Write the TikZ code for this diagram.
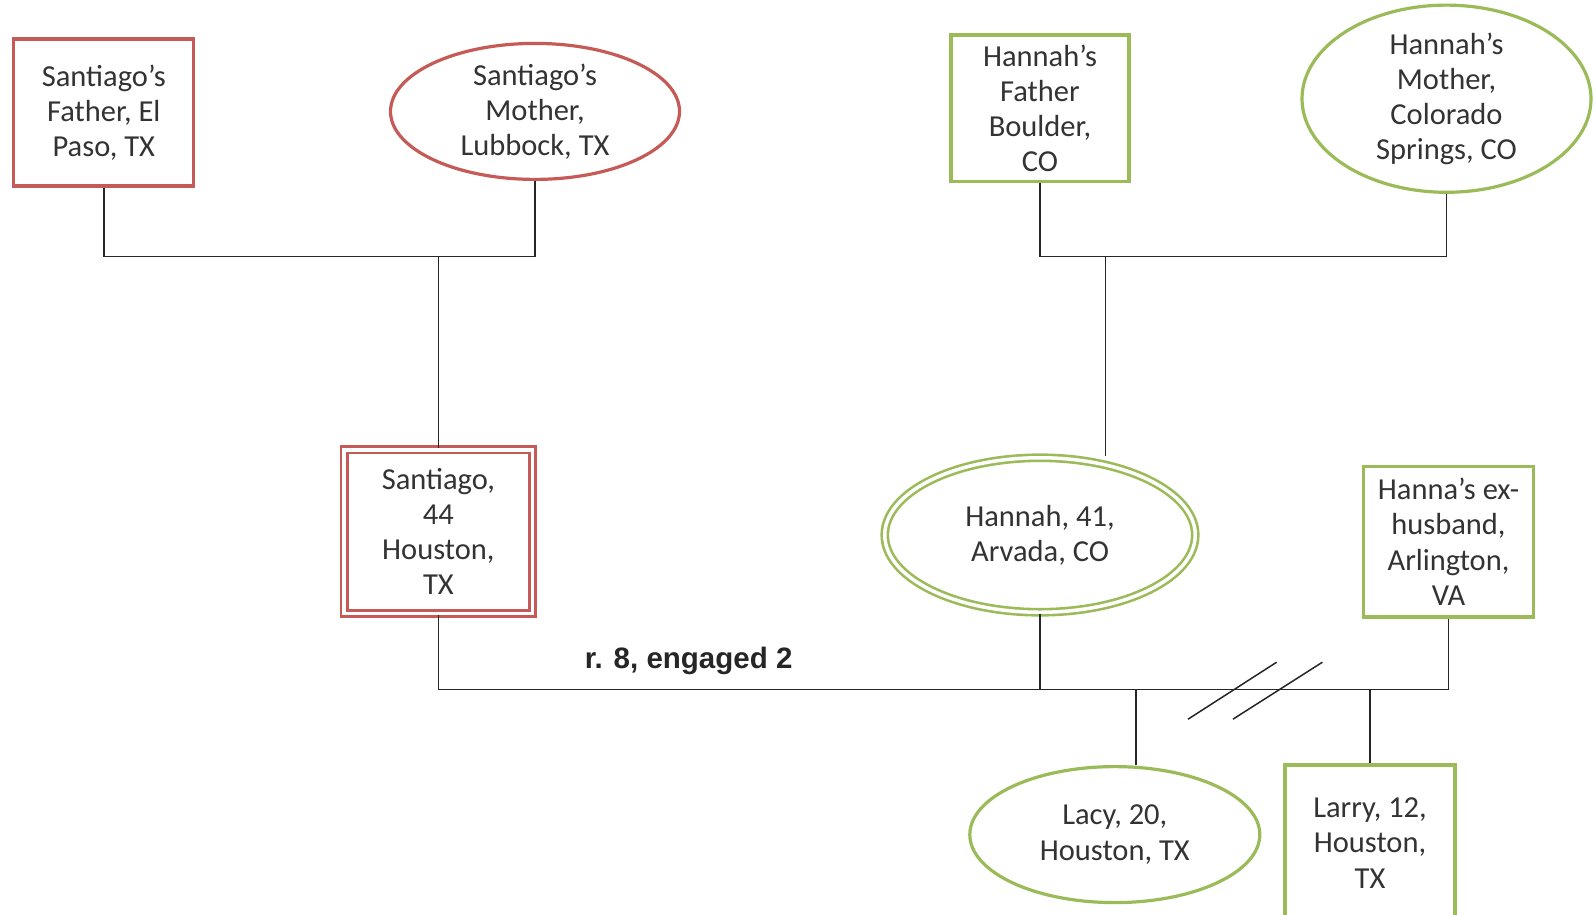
\documentclass[tikz,border=0pt]{standalone}
\usepackage{fontspec}
\setmainfont{Carlito}
\newfontfamily\labelfont{Liberation Sans}
\usetikzlibrary{shapes.geometric}
\definecolor{kinred}{HTML}{C55A57}
\definecolor{kingreen}{HTML}{9BBB59}
\definecolor{inkgrey}{HTML}{333333}
\definecolor{linkgrey}{HTML}{262626}

\begin{document}
\begin{tikzpicture}[x=1pt,y=-1pt,
  person/.style={inner sep=0pt, align=center, fill=white, line width=3.2pt,
    font=\fontsize{30.5}{35.2}\selectfont, text=inkgrey},
  male/.style={person, rectangle},
  female/.style={person, ellipse},
  santiagoside/.style={draw=kinred},
  hannahside/.style={draw=kingreen},
  indexperson/.style={double=white, double distance=3.5pt, line width=2.6pt},
  link/.style={draw=linkgrey, line width=1.5pt}]

\useasboundingbox (0,0) rectangle (1595,914);

% grandparents
\node[male, santiagoside, minimum width=180pt, minimum height=147pt]
  (sfa) at (103.8,112.4) {Santiago’s\\Father, El\\Paso, TX};
\node[female, santiagoside, minimum width=289pt, minimum height=136pt]
  (smo) at (535,111.4) {Santiago’s\\Mother,\\Lubbock, TX};
\node[male, hannahside, minimum width=178pt, minimum height=146.5pt]
  (hfa) at (1040,108.3) {Hannah’s\\Father\\Boulder,\\CO};
\node[female, hannahside, minimum width=289pt, minimum height=174pt]
  (hmo) at (1446.5,98.7) {Hannah’s\\Mother,\\Colorado\\Springs, CO};

% couple and ex-husband
\node[male, santiagoside, indexperson, minimum width=188.5pt, minimum height=163.5pt]
  (santiago) at (438.4,531.5) {Santiago,\\44\\Houston,\\TX};
\node[female, hannahside, indexperson, minimum width=310.5pt, minimum height=154.5pt]
  (hannah) at (1040,535) {Hannah, 41,\\Arvada, CO};
\node[male, hannahside, minimum width=170pt, minimum height=150.6pt]
  (exhusband) at (1448.5,541.7) {Hanna’s ex-\\husband,\\Arlington,\\VA};

% children
\node[female, hannahside, minimum width=290pt, minimum height=136pt]
  (lacy) at (1114.8,834.6) {Lacy, 20,\\Houston, TX};
\node[male, hannahside, minimum width=170pt, minimum height=156pt]
  (larry) at (1370,843) {Larry, 12,\\Houston,\\TX};

% junction points
\coordinate (sparents) at (438.4,256.3);
\coordinate (hparents) at (1105.7,256.3);
\coordinate (lacyjoin) at (1136.2,689.7);
\coordinate (larryjoin) at (1370,689.7);

% parents of Santiago
\draw[link] (sfa.south) |- (sparents) -| (smo.south);
\draw[link] (sparents) -- (santiago.north);

% parents of Hannah
\draw[link] (hfa.south) |- (hparents) -| (hmo.south);
\draw[link] (hparents) -- (hparents |- hannah.north);

% partnership line Santiago -- Hannah -- ex-husband
\draw[link] (santiago.south) |- (lacyjoin) -- (larryjoin) -| (exhusband.south);
\draw[link] (hannah.south) -- (hannah.south |- lacyjoin);

% children of Hannah and her ex-husband
\draw[link] (lacyjoin) -- (lacyjoin |- lacy.north);
\draw[link] (larryjoin) -- (larry.north);

% divorce mark
\coordinate (cutA1) at (1188,719.2);
\coordinate (cutA2) at (1276.6,662.2);
\coordinate (cutB1) at (1232.9,719.2);
\coordinate (cutB2) at (1322.4,662.2);
\draw[link] (cutA1) -- (cutA2);
\draw[link] (cutB1) -- (cutB2);

% relationship label
\node[font=\labelfont\bfseries\fontsize{29.5}{33}\selectfont, text=linkgrey]
  (relation) at (688.6,661.2) {r. 8, engaged 2};
\end{tikzpicture}
\end{document}
